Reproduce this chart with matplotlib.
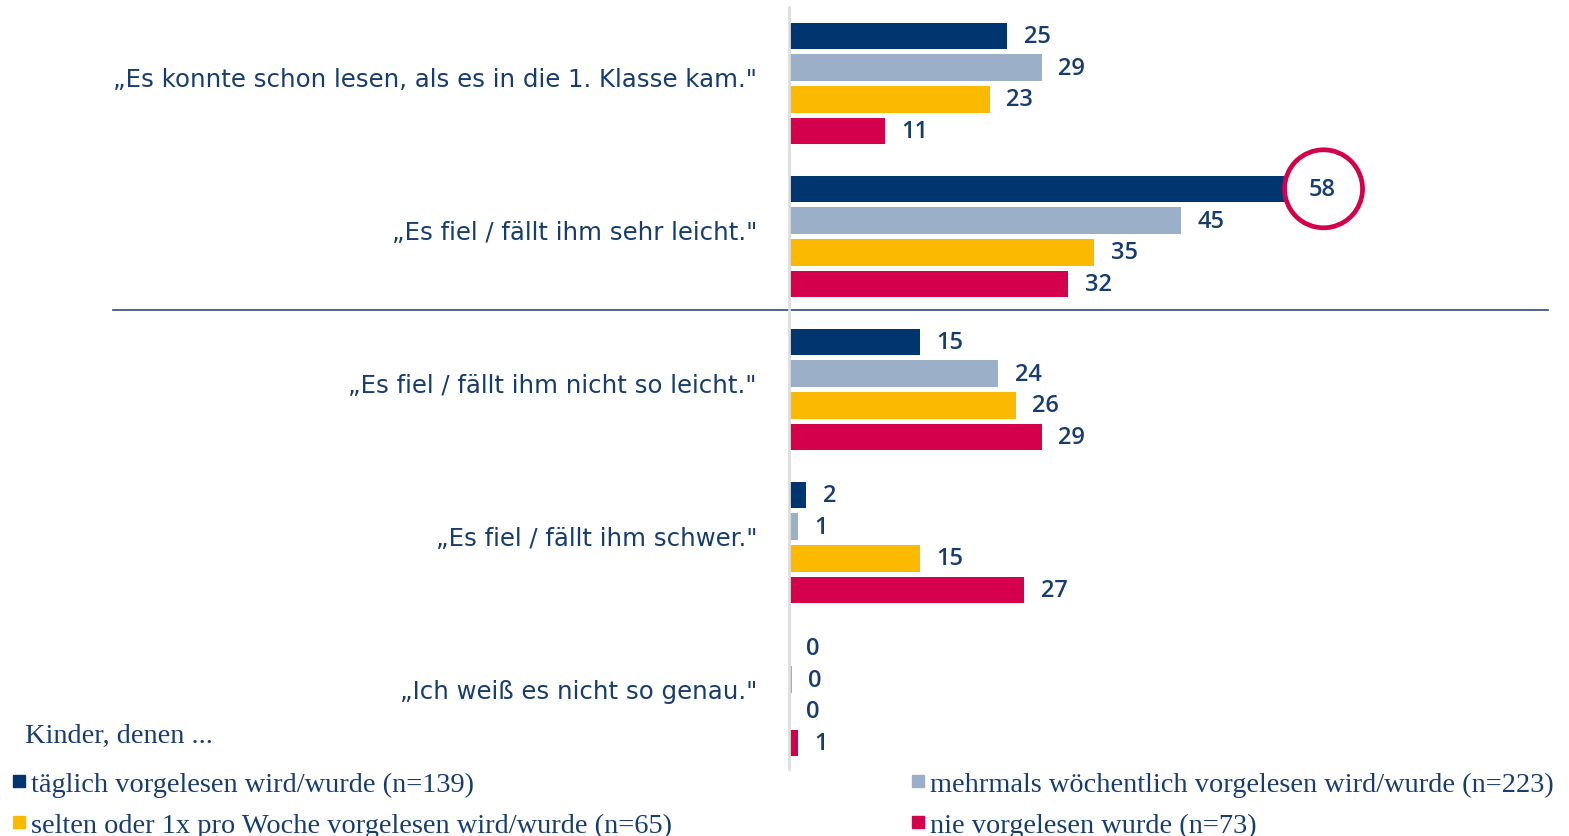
import matplotlib
matplotlib.use("Agg")
import matplotlib.pyplot as plt
from matplotlib.patches import Ellipse
import numpy as np

categories = [
    '„Es konnte schon lesen, als es in die 1. Klasse kam."',
    '„Es fiel / fällt ihm sehr leicht."',
    '„Es fiel / fällt ihm nicht so leicht."',
    '„Es fiel / fällt ihm schwer."',
    '„Ich weiß es nicht so genau."',
]
series_names = [
    "täglich vorgelesen wird/wurde (n=139)",
    "mehrmals wöchentlich vorgelesen wird/wurde (n=223)",
    "selten oder 1x pro Woche vorgelesen wird/wurde (n=65)",
    "nie vorgelesen wurde (n=73)",
]
taeglich = [25, 58, 15, 2, 0]
mehrmals = [29, 45, 24, 1, 0.3]
selten = [23, 35, 26, 15, 0]
nie = [11, 32, 29, 27, 1]
legend_title = "Kinder, denen ..."
highlight = (1, 0)  # category index, series index

colors = ["#003670", "#9BB0C8", "#FBBA00", "#D5004B"]
text_col = "#173D6E"
series = [taeglich, mehrmals, selten, nie]

W, H = 1569, 837
fig = plt.figure(figsize=(W / 100, H / 100), dpi=100)
ax_left, ax_right, ax_top, ax_bot = 789, 1560, 8, 770
ax = fig.add_axes([ax_left / W, 1 - ax_bot / H, (ax_right - ax_left) / W, (ax_bot - ax_top) / H])

px_per_unit = 8.72
ax.set_xlim(0, (ax_right - ax_left) / px_per_unit)
grp_px = 153.0
c0 = 84.5
ax.set_ylim((ax_bot - c0) / grp_px, (ax_top - c0) / grp_px)

step = 31.8 / grp_px
bh = 26.5 / grp_px
y0 = np.arange(len(categories))
num_font = dict(fontsize=17, color=text_col, family="Open Sans", fontweight="semibold")
for s, vals in enumerate(series):
    ys = y0 + (s - 1.5) * step
    ax.barh(ys, vals, height=bh, color=colors[s], zorder=2)
    for i, (y, v) in enumerate(zip(ys, vals)):
        if (i, s) == highlight:
            continue
        ax.text(v + 1.9, y, f"{round(v)}", va="center", ha="left", **num_font)

# highlight circle
hi, hs = highlight
hv = series[hs][hi]
hy = hi + (hs - 1.5) * step
r_px = 39
cx = hv + 3.3
ax.add_patch(Ellipse((cx, hy), width=2 * r_px / px_per_unit, height=2 * r_px / grp_px,
                     facecolor="white", edgecolor="#D5004B", linewidth=3.4, zorder=3, clip_on=False))
ax.text(cx - 0.2, hy, f"{hv}", va="center", ha="center", zorder=4, **num_font)

# category labels
for i, c in enumerate(categories):
    ax.text(-32 / px_per_unit, i - 4 / grp_px, c, ha="right", va="center",
            fontsize=17.6, color=text_col, family="DejaVu Sans", fontweight="normal")

# separator
axw = ax_right - ax_left
ax.axhline((311 - c0) / grp_px, xmin=(113 - ax_left) / axw, xmax=(1548 - ax_left) / axw,
           color="#2C4A75", linewidth=1.2, clip_on=False, zorder=1)

for sp in ["top", "right", "bottom"]:
    ax.spines[sp].set_visible(False)
ax.spines["left"].set_color("#DDDDDD")
ax.spines["left"].set_linewidth(2)
ax.set_xticks([])
ax.set_yticks([])

# legend
leg_font = dict(fontsize=20.4, color=text_col, family="Liberation Serif")
fig.text(25 / W, 1 - 736 / H, legend_title, ha="left", va="center", **leg_font)
pos = [(13, 785), (912, 785), (13, 826), (912, 826)]
for s, (x, y) in enumerate(pos):
    fig.patches.append(plt.Rectangle((x / W, 1 - (y + 3) / H), 12 / W, 12 / H,
                                     transform=fig.transFigure, color=colors[s]))
    fig.text((x + 18) / W, 1 - y / H, series_names[s], ha="left", va="center", **leg_font)

fig.savefig("out.png", dpi=100, facecolor="white")
